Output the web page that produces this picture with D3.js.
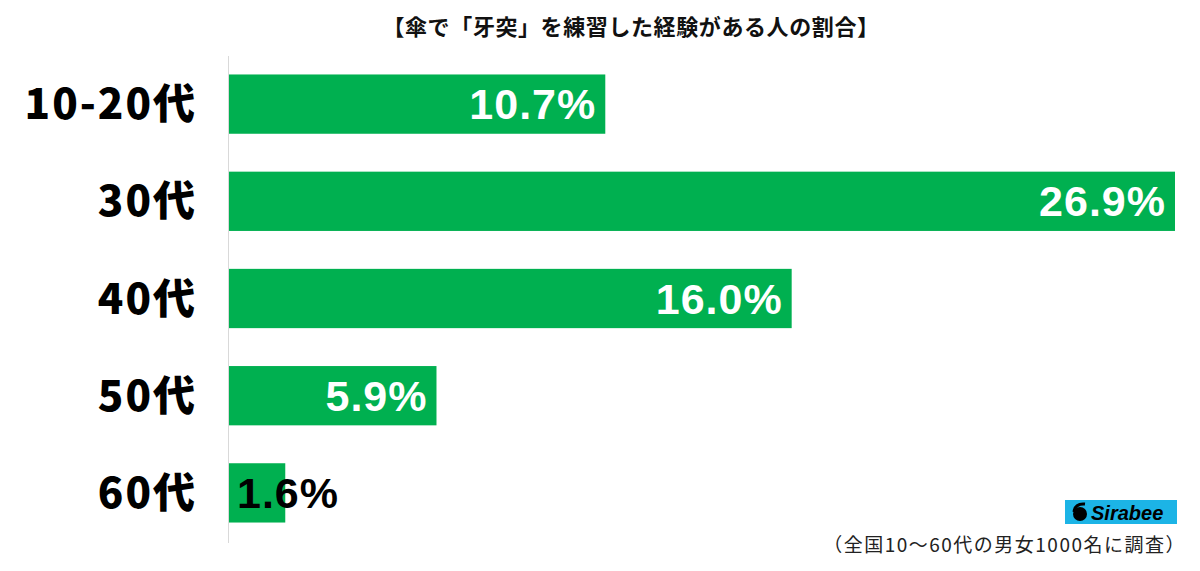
<!DOCTYPE html>
<html lang="ja">
<head>
<meta charset="utf-8">
<script src="https://d3js.org/d3.v7.min.js"></script>
<style>
  body { margin: 0; background: #fff; }
  svg { display: block; }
</style>
</head>
<body>
<svg width="1200" height="571"></svg>
<script>
// data
var categories = ["10-20代", "30代", "40代", "50代", "60代"];
var values = [10.7, 26.9, 16.0, 5.9, 1.6];
var valueLabels = ["10.7%", "26.9%", "16.0%", "5.9%", "1.6%"];
var title = "【傘で「牙突」を練習した経験がある人の割合】";
var note = "（全国10～60代の男女1000名に調査）";

var svg = d3.select("svg");
var fontJP = "'Noto Sans CJK JP', 'Noto Sans', sans-serif";
var fontNum = "'Liberation Sans', Arial, sans-serif";

var left = 229;
var x = d3.scaleLinear().domain([0, 26.9]).range([left, 1175]);
var y = d3.scaleBand().domain(categories).range([56, 541]).paddingInner(0.39).paddingOuter(0.19);

// title
svg.append("text")
    .attr("x", 631).attr("y", 35)
    .attr("text-anchor", "middle")
    .style("font-family", fontJP)
    .style("font-weight", "bold")
    .style("font-size", "22px")
    .style("letter-spacing", "0.6px")
    .attr("fill", "#111")
    .text(title);

// axis line
svg.append("line")
    .attr("x1", left - 0.5).attr("x2", left - 0.5)
    .attr("y1", 56).attr("y2", 543)
    .attr("stroke", "#d9d9d9").attr("stroke-width", 1);

// bars
svg.selectAll("rect.bar")
    .data(values)
    .enter().append("rect")
    .attr("class", "bar")
    .attr("x", left)
    .attr("y", function (d, i) { return y(categories[i]); })
    .attr("width", function (d) { return x(d) - left; })
    .attr("height", y.bandwidth())
    .attr("fill", "#00b050");

// category labels
svg.selectAll("text.cat")
    .data(categories)
    .enter().append("text")
    .attr("class", "cat")
    .attr("x", 197)
    .attr("y", function (d) { return y(d) + y.bandwidth() / 2 + 15; })
    .attr("text-anchor", "end")
    .style("font-family", fontJP)
    .style("font-weight", "900")
    .style("font-size", "42px")
    .style("letter-spacing", "2px")
    .attr("fill", "#000")
    .text(function (d) { return d; });

// value labels
svg.selectAll("text.val")
    .data(values)
    .enter().append("text")
    .attr("class", "val")
    .attr("x", function (d) { return d < 3 ? left + 8 : x(d) - 9; })
    .attr("y", function (d, i) { return y(categories[i]) + y.bandwidth() / 2 + 15; })
    .attr("text-anchor", function (d) { return d < 3 ? "start" : "end"; })
    .style("font-family", fontNum)
    .style("font-weight", "bold")
    .style("font-size", "43px")
    .style("letter-spacing", "1px")
    .attr("fill", function (d) { return d < 3 ? "#000" : "#fff"; })
    .text(function (d, i) { return valueLabels[i]; });

// logo
var logo = svg.append("g").attr("transform", "translate(1065,500)");
logo.append("rect").attr("width", 112).attr("height", 24).attr("fill", "#1cb4e6");
logo.append("circle").attr("cx", 15).attr("cy", 14).attr("r", 7).attr("fill", "#000");
logo.append("path").attr("d", "M9,12 Q10,3 20,4").attr("stroke", "#000").attr("stroke-width", 3).attr("fill", "none");
logo.append("text")
    .attr("x", 26).attr("y", 20)
    .style("font-family", fontNum)
    .style("font-weight", "bold")
    .style("font-style", "italic")
    .style("font-size", "20px")
    .attr("fill", "#000")
    .text("Sirabee");

// footnote
svg.append("text")
    .attr("x", 1186).attr("y", 552)
    .attr("text-anchor", "end")
    .style("font-family", fontJP)
    .style("font-size", "19px")
    .style("letter-spacing", "1.5px")
    .attr("fill", "#222")
    .text(note);
</script>
</body>
</html>
